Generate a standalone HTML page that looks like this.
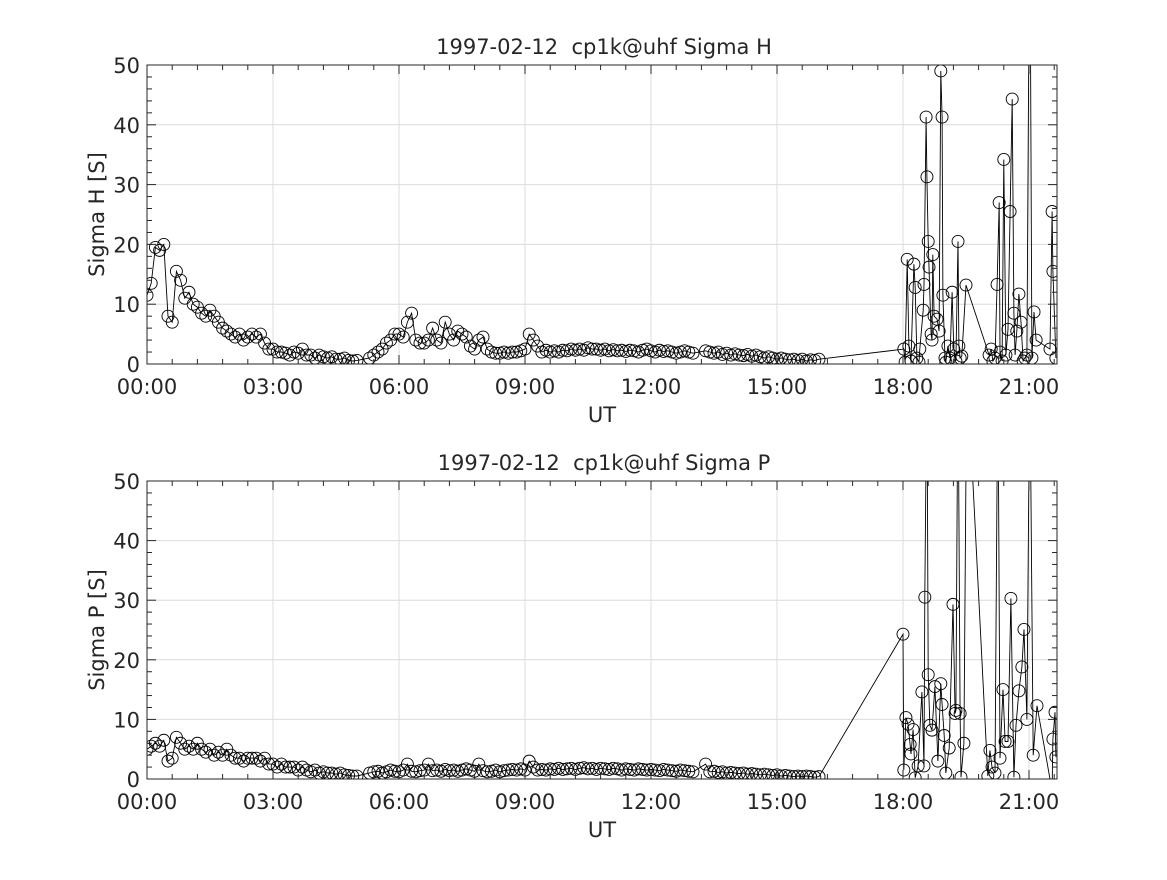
<!DOCTYPE html>
<html><head><meta charset="utf-8"><style>
body{margin:0;background:#fff}
svg text{font-family:"DejaVu Sans","Liberation Sans",sans-serif;fill:#262626}
</style></head><body>
<svg id="fig" width="1167" height="875" viewBox="0 0 1167 875" xmlns="http://www.w3.org/2000/svg"></svg>
<script>
// ---- data (hours UT, Siemens) ----
const xTickLabels=["00:00","03:00","06:00","09:00","12:00","15:00","18:00","21:00"];
const xTickHours=[0,3,6,9,12,15,18,21];
const yTickLabels=["0","10","20","30","40","50"];
const yTickValues=[0,10,20,30,40,50];
const hStart1=0.0, hStart2=5.3, hStart3=13.3;
const sigmaH_seg1=[11.5,13.5,19.5,19,20,8,7,15.5,14,11,12,10,9.5,8.5,8,9,8,7,6,5.5,5,4.5,5,4,4.5,5,4.5,5,3.5,2.5,2.5,2,2,1.8,1.5,2,1.8,2.5,1.5,1.5,1,1.5,1.2,1,1.2,0.8,0.8,1,0.6,0.5,0.6];
const sigmaH_seg2=[1,1.5,2,2.5,3.5,4,5,5,4.5,7,8.5,4,3.5,3.5,4,6,4,3.5,7,5,4,5.5,5,4.5,3,2.5,4,4.5,2.5,2,1.8,1.8,2,1.8,2,2,2.2,2.5,5,4,3,2,2.3,2,2.2,2,2.3,2.2,2.5,2.3,2.5,2.3,2.7,2.5,2.5,2.3,2.5,2.2,2.4,2.2,2.3,2.1,2.3,2.2,2,2.3,2.5,2.2,2,2.3,2.1,2.2,2,1.8,2,2.2,2,1.8];
const sigmaH_seg3=[2.2,2.0,1.8,2.0,1.6,1.8,1.5,1.7,1.5,1.4,1.6,1.3,1.5,1.2,1.0,1.2,1.0,0.8,1.0,0.8,0.7,0.8,0.6,0.8,0.5,0.7,0.6,0.8];
const sigmaH_lateT=[18.02,18.05,18.10,18.14,18.19,18.26,18.29,18.33,18.38,18.40,18.48,18.50,18.55,18.57,18.60,18.62,18.67,18.69,18.71,18.74,18.81,18.86,18.90,18.93,18.95,19.00,19.02,19.07,19.12,19.17,19.21,19.26,19.31,19.33,19.36,19.40,19.50,20.05,20.10,20.14,20.19,20.24,20.29,20.31,20.36,20.40,20.45,20.50,20.55,20.60,20.64,20.67,20.71,20.76,20.81,20.86,20.90,20.95,21.02,21.07,21.12,21.17,21.50,21.55,21.57,21.64];
const sigmaH_lateV=[2.5,0.3,17.5,3,0.5,16.7,12.8,1,0.3,2.5,9,13.3,41.3,31.3,20.5,16.2,5,4,18.3,8,7.5,5.5,49,41.3,11.5,1,0.3,3,1,12,2.5,0.5,20.5,3,1,1.3,13.2,1.5,2.5,0.5,1,13.3,27,2,0.5,34.2,1.5,5.8,25.5,44.3,8.5,1.5,5.5,11.7,7,0.5,1,1.5,80,1,8.7,4,2.5,25.5,15.5,1];
const sigmaP_seg1=[5,5.5,6,5.5,6.5,3,3.5,7,6,5,5.5,5,6,5,4.5,5,4,4.5,4,5,4,3.5,3.5,3,3.5,3.5,3.5,3,3.5,2.5,2.5,2,2.5,2,2,2,1.5,2,1.5,1.2,1.5,1,1.2,1,1,0.8,1,0.7,0.6,0.5,0.5];
const sigmaP_seg2=[1,1.2,1.3,1,1.2,1.5,1.3,1.2,1.5,2.5,1.3,1.2,1.4,1.5,2.5,1.4,1.5,1.3,1.6,1.4,1.5,1.3,1.5,1.7,1.5,1.3,2.5,1.4,1.2,1.3,1.5,1.2,1.4,1.5,1.6,1.5,1.7,1.5,3,2,1.5,1.6,1.5,1.7,1.6,1.8,1.6,1.7,1.8,1.6,1.8,1.9,1.7,1.8,1.6,1.8,1.7,1.6,1.8,1.7,1.5,1.7,1.6,1.5,1.7,1.6,1.5,1.6,1.5,1.4,1.6,1.5,1.4,1.3,1.5,1.4,1.3,1.2];
const sigmaP_seg3=[2.5,1.2,1.3,1.1,1.2,1.0,1.1,1.0,0.9,1.0,0.8,0.9,0.8,0.7,0.8,0.7,0.6,0.7,0.5,0.6,0.5,0.4,0.5,0.4,0.5,0.4,0.3,0.4];
const sigmaP_lateT=[18.00,18.02,18.07,18.12,18.17,18.19,18.24,18.29,18.36,18.45,18.50,18.52,18.57,18.60,18.64,18.69,18.76,18.83,18.90,18.93,18.98,19.02,19.10,19.19,19.24,19.26,19.31,19.36,19.38,19.45,19.52,20.02,20.07,20.12,20.19,20.26,20.31,20.38,20.43,20.50,20.57,20.64,20.69,20.76,20.83,20.88,20.95,21.02,21.10,21.19,21.55,21.57,21.62,21.64];
const sigmaP_lateV=[24.3,1.5,10.3,9.2,5.8,4.2,8.3,0.2,2.2,14.6,2.2,30.5,70,17.5,9,8.2,15.5,3,16,12.5,7.3,1,5.2,29.3,11,11.5,70,11,0.3,6,70,0.5,4.8,2,1,70,3.5,15,6.3,6.3,30.3,0.3,9,14.8,18.8,25.1,10,70,4,12.3,-2,6.7,11.2,3.7];

const NS="http://www.w3.org/2000/svg";
const svg=document.getElementById('fig');
function mk(tag,attrs,parent){const e=document.createElementNS(NS,tag);for(const k in attrs)e.setAttribute(k,attrs[k]);(parent||svg).appendChild(e);return e;}
function build(segs,lateT,lateV){
  const t=[],v=[];
  segs.forEach(s=>{s.vals.forEach((val,i)=>{t.push(s.start+i*0.1);v.push(val);});});
  lateT.forEach((tt,i)=>{t.push(tt);v.push(lateV[i]);});
  return {t,v};
}
function panel(id,top,bottom,title,ylab,data){
  const L=147,R=1057,xMax=(R-L)/42;
  const xs=h=>L+h*42, ys=val=>bottom-(val/50)*(bottom-top);
  const g=mk('g',{});
  
  
  const cp=mk('clipPath',{id:id+'-clip'},g);
  mk('rect',{x:L,y:top,width:R-L,height:bottom-top},cp);
  mk('rect',{x:L,y:top,width:R-L,height:bottom-top,fill:'#fff'},g);
  xTickHours.forEach(h=>{const x=xs(h);
    const gl=mk('line',{x1:x,x2:x,y1:top,y2:bottom,stroke:'#dcdcdc','stroke-width':1},g);
    
    });
  yTickValues.forEach(val=>{const y=ys(val);
    const gl=mk('line',{x1:L,x2:R,y1:y,y2:y,stroke:'#dcdcdc','stroke-width':1},g);
    
    });
  const cg=mk('g',{'clip-path':`url(#${id}-clip)`},g);
  const pts=data.t.map((tt,i)=>xs(tt).toFixed(1)+','+ys(data.v[i]).toFixed(1)).join(' ');
  const pl=mk('polyline',{points:pts,fill:'none',stroke:'#000','stroke-width':0.9},cg);
  
  
  data.t.forEach((tt,i)=>{
    const c=mk('circle',{cx:xs(tt),cy:ys(data.v[i]),r:6,fill:'none',stroke:'#000','stroke-width':0.9},cg);
    
    
  });
  mk('rect',{x:L,y:top,width:R-L,height:bottom-top,fill:'none',stroke:'#262626','stroke-width':1},g);
  for(let k=0;k*0.6<=xMax+0.001;k++){const h=k*0.6;const x=xs(h);const major=(k%5===0);const len=major?9:5;
    mk('line',{x1:x,x2:x,y1:bottom,y2:bottom-len,stroke:'#262626'},g);
    mk('line',{x1:x,x2:x,y1:top,y2:top+len,stroke:'#262626'},g);}
  for(let val=0;val<=50;val+=2){const y=ys(val);const major=(val%10===0);const len=major?9:5;
    mk('line',{x1:L,x2:L+len,y1:y,y2:y,stroke:'#262626'},g);
    mk('line',{x1:R,x2:R-len,y1:y,y2:y,stroke:'#262626'},g);}
  xTickHours.forEach((h,i)=>{const tx=mk('text',{x:xs(h),y:bottom+30,'text-anchor':'middle','font-size':21},g);tx.textContent=xTickLabels[i];
    
    });
  yTickValues.forEach((val,i)=>{const tx=mk('text',{x:L-7,y:ys(val)+8,'text-anchor':'end','font-size':21},g);tx.textContent=yTickLabels[i];
    
    });
  const xt=mk('text',{x:(L+R)/2,y:bottom+58,'text-anchor':'middle','font-size':21},g);xt.textContent='UT';
  
  
  const yt=mk('text',{x:0,y:0,'text-anchor':'middle','font-size':21,transform:`translate(104,${(top+bottom)/2}) rotate(-90)`},g);yt.textContent=ylab;
  
  
  const tt=mk('text',{x:(L+R)/2+2,y:top-11,'text-anchor':'middle','font-size':21},g);tt.textContent=title;
  
  
}
panel('sigma-h',65,364,'1997-02-12\u00a0\u00a0cp1k@uhf Sigma H','Sigma H [S]',
  build([{start:hStart1,vals:sigmaH_seg1},{start:hStart2,vals:sigmaH_seg2},{start:hStart3,vals:sigmaH_seg3}],sigmaH_lateT,sigmaH_lateV));
panel('sigma-p',481,779,'1997-02-12\u00a0\u00a0cp1k@uhf Sigma P','Sigma P [S]',
  build([{start:hStart1,vals:sigmaP_seg1},{start:hStart2,vals:sigmaP_seg2},{start:hStart3,vals:sigmaP_seg3}],sigmaP_lateT,sigmaP_lateV));
</script>
</body></html>
